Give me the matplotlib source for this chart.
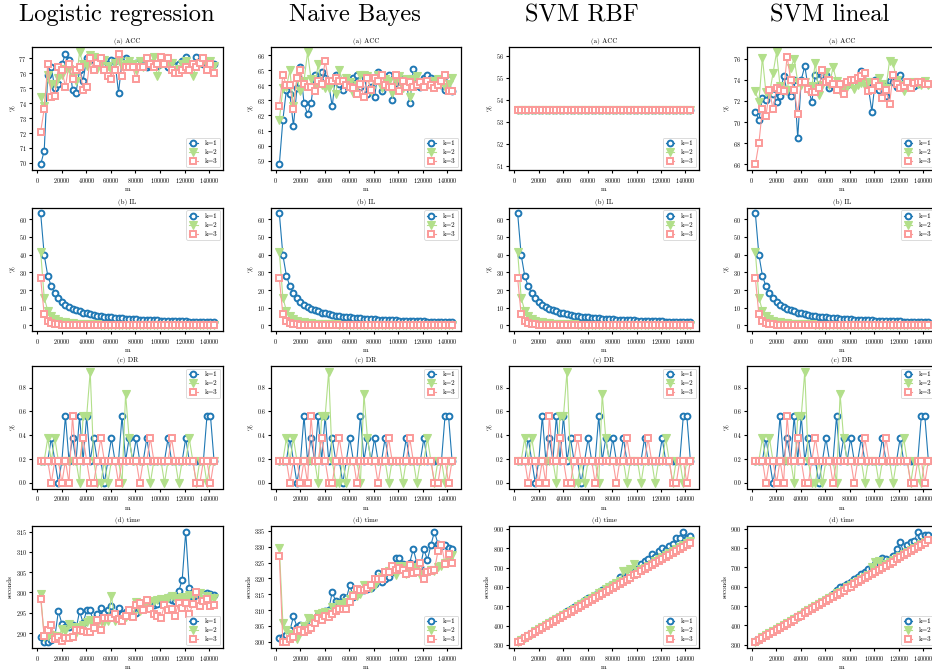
import matplotlib
matplotlib.use("Agg")
import matplotlib.pyplot as plt
import numpy as np

plt.rcParams['font.family'] = ['cmr10', 'DejaVu Serif']
plt.rcParams['axes.unicode_minus'] = False
plt.rcParams['mathtext.fontset'] = 'cm'
plt.rcParams['axes.formatter.use_mathtext'] = True

models = ["Logistic regression", "Naive Bayes", "SVM RBF", "SVM lineal"]
labels = ["k=1", "k=2", "k=3"]
m = [2880, 5760, 8640, 11520, 14400, 17280, 20160, 23040, 25920, 28800,
     31680, 34560, 37440, 40320, 43200, 46080, 48960, 51840, 54720, 57600,
     60480, 63360, 66240, 69120, 72000, 74880, 77760, 80640, 83520, 86400,
     89280, 92160, 95040, 97920, 100800, 103680, 106560, 109440, 112320, 115200,
     118080, 120960, 123840, 126720, 129600, 132480, 135360, 138240, 141120, 144000]

# ---------------- ACC ----------------
acc_lr_k1 = [69.9, 70.8, 75.9, 76.4, 75.0, 75.3, 76.6, 77.3, 76.9, 74.9, 74.7, 76.2, 75.5, 77.0, 76.9,
             77.0, 76.6, 76.8, 76.5, 76.6, 76.9, 76.8, 74.7, 76.8, 77.0, 76.5, 76.6, 76.7, 76.5, 76.6,
             76.4, 76.5, 76.6, 76.5, 76.8, 76.7, 76.4, 76.6, 76.5, 76.6, 76.8, 77.1, 76.4, 76.6, 77.1,
             76.8, 76.6, 76.7, 76.6, 76.6]
acc_lr_k2 = [74.4, 73.8, 75.9, 75.3, 75.3, 75.7, 75.9, 76.3, 76.3, 75.7, 75.5, 77.4, 76.6, 76.5, 77.2,
             77.1, 76.3, 76.6, 76.9, 76.5, 76.2, 76.7, 76.8, 76.5, 76.6, 76.8, 76.6, 76.2, 76.8, 76.4,
             76.7, 76.6, 77.1, 75.8, 76.6, 77.0, 76.6, 76.7, 76.1, 76.3, 76.6, 76.8, 76.6, 75.8, 76.5,
             76.7, 76.8, 76.6, 76.8, 76.5]
acc_lr_k3 = [72.1, 73.6, 76.6, 74.4, 74.5, 76.4, 76.2, 75.1, 76.6, 75.6, 76.2, 76.4, 74.9, 75.1, 77.0,
             76.2, 76.7, 77.0, 76.2, 75.8, 75.6, 76.2, 77.3, 75.8, 76.4, 76.4, 76.4, 75.6, 76.4, 76.4,
             77.0, 76.6, 76.4, 76.6, 77.1, 76.6, 77.0, 76.2, 76.0, 76.0, 76.2, 76.4, 76.2, 76.6, 76.4,
             76.7, 77.0, 76.2, 76.6, 76.0]
acc_nb_k1 = [58.75, 61.7, 63.7, 63.4, 61.3, 63.8, 65.2, 62.8, 62.1, 62.8, 64.7, 64.3, 64.9, 64.5, 64.1,
             62.6, 64.7, 64.1, 63.7, 64.0, 64.2, 64.5, 64.7, 63.9, 64.7, 63.4, 63.9, 63.2, 64.9, 63.6,
             64.1, 64.7, 63.0, 64.0, 63.9, 64.4, 64.2, 62.8, 65.1, 64.0, 63.9, 64.5, 64.7, 64.5, 64.0,
             64.3, 64.0, 63.7, 64.4, 63.6]
acc_nb_k2 = [61.7, 63.8, 63.9, 65.0, 62.6, 64.5, 63.6, 64.3, 66.2, 64.4, 63.8, 65.4, 64.0, 63.8, 63.8,
             64.3, 63.4, 65.0, 64.3, 64.5, 64.2, 63.5, 64.0, 64.7, 64.7, 64.6, 63.6, 64.4, 64.7, 63.8,
             64.4, 64.3, 63.5, 64.3, 64.6, 63.8, 64.4, 63.2, 64.4, 64.6, 64.0, 64.2, 64.0, 63.9, 64.3,
             64.4, 64.2, 63.9, 64.1, 64.5]
acc_nb_k3 = [62.6, 64.7, 64.0, 64.0, 62.4, 64.5, 65.0, 64.1, 63.9, 63.9, 63.6, 64.3, 64.1, 65.6, 64.3,
             64.3, 64.5, 64.3, 64.3, 64.0, 63.9, 63.8, 63.4, 64.1, 63.2, 64.5, 63.7, 64.5, 64.3, 64.7,
             64.0, 63.9, 63.9, 64.7, 63.6, 64.3, 63.9, 64.2, 63.9, 64.0, 64.2, 63.9, 64.3, 64.0, 63.8,
             64.0, 64.3, 64.7, 63.6, 63.6]
acc_rbf = [53.52] * 50
acc_lin_k1 = [71.0, 70.2, 72.3, 72.1, 72.9, 72.7, 71.9, 72.5, 74.4, 72.9, 72.5, 74.0, 68.5, 74.0, 75.3,
              73.2, 71.9, 74.5, 73.5, 74.5, 74.5, 73.2, 73.5, 73.5, 73.5, 73.4, 73.5, 73.8, 73.7, 73.8,
              74.8, 73.9, 73.3, 71.0, 74.0, 73.0, 73.6, 72.5, 73.9, 73.8, 73.3, 74.5, 73.6, 73.4, 73.7,
              73.4, 73.6, 73.8, 73.8, 73.6]
acc_lin_k2 = [72.9, 71.9, 76.1, 72.8, 72.7, 74.6, 76.6, 73.4, 72.9, 73.0, 75.1, 76.0, 73.8, 73.5, 73.8,
              73.0, 73.4, 75.6, 72.6, 73.5, 74.7, 73.5, 75.2, 73.9, 72.9, 73.2, 73.3, 73.6, 73.1, 73.5,
              73.7, 73.4, 73.8, 73.8, 73.5, 74.2, 73.6, 73.2, 75.8, 75.6, 74.0, 73.5, 72.9, 73.6, 73.3,
              73.8, 73.6, 73.5, 73.9, 73.5]
acc_lin_k3 = [66.0, 68.0, 71.2, 70.6, 73.0, 71.2, 73.2, 73.0, 72.9, 76.2, 74.0, 73.0, 70.8, 73.8, 73.8,
              73.1, 72.8, 72.8, 73.2, 74.9, 73.8, 74.0, 73.6, 73.0, 73.6, 72.7, 73.8, 74.0, 74.0, 74.2,
              74.4, 74.6, 72.9, 73.0, 73.8, 73.4, 72.3, 73.0, 71.7, 74.5, 73.6, 73.2, 73.4, 73.8, 73.2,
              73.7, 73.8, 73.8, 73.6, 73.6]

# ---------------- IL ----------------
il_k1 = [63.3, 39.8, 28.1, 22.1, 18.1, 15.3, 13.2, 11.7, 10.4, 9.4, 8.6, 7.9, 7.3, 6.8, 6.4, 6.0, 5.6,
         5.3, 5.0, 4.8, 4.6, 4.4, 4.2, 4.0, 3.8, 3.7, 3.5, 3.4, 3.3, 3.2, 3.1, 3.0, 2.9, 2.8, 2.7, 2.6,
         2.6, 2.5, 2.4, 2.4, 2.3, 2.3, 2.2, 2.2, 2.1, 2.1, 2.0, 2.0, 1.9, 1.9]
il_k2 = [41.5, 15.6, 8.4, 5.2, 3.6, 2.7, 2.1, 1.7, 1.4, 1.2, 1.0, 0.9, 0.8, 0.7, 0.65, 0.6, 0.55, 0.5,
         0.46, 0.43, 0.4, 0.38, 0.36, 0.34, 0.32, 0.3, 0.29, 0.28, 0.27, 0.26, 0.25, 0.24, 0.23, 0.22,
         0.21, 0.2, 0.2, 0.19, 0.18, 0.18, 0.17, 0.17, 0.16, 0.16, 0.15, 0.15, 0.14, 0.14, 0.14, 0.13]
il_k3 = [26.5, 6.2, 2.5, 1.3, 0.8, 0.55, 0.4, 0.3, 0.24, 0.2, 0.17, 0.15, 0.13, 0.12, 0.11, 0.1, 0.09,
         0.085, 0.08, 0.075, 0.07, 0.065, 0.06, 0.058, 0.055, 0.052, 0.05, 0.048, 0.046, 0.044, 0.042,
         0.04, 0.039, 0.038, 0.037, 0.036, 0.035, 0.034, 0.033, 0.032, 0.031, 0.03, 0.03, 0.029, 0.028,
         0.028, 0.027, 0.027, 0.026, 0.026]

# ---------------- DR ----------------
dr_k1 = [0.187, 0.187, 0.187, 0.374, 0.187, 0.0, 0.187, 0.561, 0.187, 0.374, 0.187, 0.561, 0.187, 0.561,
         0.187, 0.374, 0.187, 0.187, 0.0, 0.187, 0.374, 0.187, 0.187, 0.561, 0.187, 0.374, 0.187, 0.374,
         0.187, 0.187, 0.374, 0.187, 0.187, 0.187, 0.187, 0.187, 0.374, 0.187, 0.187, 0.187, 0.187, 0.374,
         0.187, 0.187, 0.187, 0.187, 0.187, 0.561, 0.561, 0.187]
dr_k2 = [0.187, 0.187, 0.374, 0.187, 0.374, 0.187, 0.187, 0.187, 0.187, 0.187, 0.187, 0.0, 0.561, 0.561,
         0.935, 0.187, 0.0, 0.0, 0.187, 0.0, 0.187, 0.187, 0.187, 0.0, 0.748, 0.374, 0.187, 0.187, 0.187,
         0.187, 0.187, 0.0, 0.187, 0.187, 0.187, 0.0, 0.187, 0.187, 0.187, 0.0, 0.187, 0.187, 0.374, 0.187,
         0.0, 0.187, 0.187, 0.0, 0.187, 0.187]
dr_k3 = [0.187, 0.187, 0.187, 0.0, 0.187, 0.187, 0.0, 0.187, 0.0, 0.561, 0.187, 0.187, 0.374, 0.187, 0.0,
         0.0, 0.187, 0.374, 0.187, 0.187, 0.187, 0.187, 0.0, 0.187, 0.187, 0.187, 0.187, 0.187, 0.0, 0.187,
         0.187, 0.374, 0.187, 0.187, 0.187, 0.187, 0.187, 0.374, 0.187, 0.187, 0.187, 0.187, 0.187, 0.187,
         0.0, 0.0, 0.187, 0.187, 0.0, 0.187]

# ---------------- time ----------------
t_lr_k1 = [289.0, 287.7, 287.9, 288.2, 289.0, 295.4, 292.3, 291.6, 291.5, 292.0, 291.0, 295.4, 292.5,
           295.6, 295.6, 292.5, 294.6, 296.1, 295.0, 295.8, 296.6, 294.7, 296.2, 294.7, 295.2, 295.1,
           295.8, 295.0, 296.4, 296.7, 298.2, 296.6, 296.8, 297.2, 298.0, 297.9, 298.9, 298.2, 298.0,
           300.3, 303.1, 315.0, 301.2, 299.0, 299.3, 299.3, 299.7, 299.8, 299.6, 299.3]
t_lr_k2 = [299.6, 289.0, 289.4, 289.5, 289.2, 289.0, 291.0, 290.5, 292.3, 291.5, 290.0, 291.6, 292.0,
           292.8, 293.2, 292.0, 292.6, 293.1, 292.7, 293.0, 299.2, 293.0, 293.4, 293.2, 294.0, 294.4,
           294.2, 297.6, 295.5, 297.0, 297.4, 298.0, 297.9, 298.1, 298.3, 297.8, 298.6, 299.2, 298.6,
           298.2, 299.0, 298.5, 299.3, 299.1, 299.8, 299.9, 298.3, 299.2, 298.3, 298.6]
t_lr_k3 = [298.5, 289.3, 290.7, 292.1, 288.6, 289.0, 288.1, 288.7, 288.9, 289.0, 290.8, 290.7, 290.6,
           290.3, 290.2, 291.3, 293.2, 290.7, 293.6, 293.6, 293.8, 294.6, 293.5, 292.9, 294.2, 295.6,
           293.9, 296.8, 297.3, 295.7, 298.2, 295.9, 294.7, 294.2, 293.8, 296.8, 295.6, 296.0, 294.3,
           297.4, 296.2, 297.3, 294.7, 297.1, 300.0, 296.6, 298.0, 298.5, 296.7, 297.0]
t_nb_k1 = [301.1, 301.6, 302.2, 303.6, 308.0, 304.8, 305.3, 304.6, 305.4, 306.2, 307.2, 308.5, 309.0,
           309.8, 310.1, 315.7, 312.8, 312.7, 314.0, 313.8, 317.8, 314.2, 315.0, 316.0, 316.4, 316.6,
           317.0, 318.2, 321.8, 319.0, 319.8, 320.4, 322.0, 326.3, 326.3, 324.6, 323.5, 325.0, 329.3,
           324.9, 323.5, 329.3, 325.8, 330.5, 334.8, 330.9, 330.1, 330.4, 329.7, 329.3]
t_nb_k2 = [329.6, 306.0, 303.7, 302.5, 302.0, 301.0, 303.0, 305.1, 307.4, 307.2, 306.8, 308.7, 309.0,
           309.5, 308.6, 311.0, 310.5, 311.8, 312.0, 312.5, 313.5, 314.8, 314.5, 315.0, 318.0, 317.8,
           317.0, 318.0, 319.6, 320.3, 321.6, 322.2, 322.2, 321.2, 323.8, 324.0, 321.5, 322.5, 322.6,
           323.7, 321.2, 321.3, 322.0, 322.6, 322.4, 323.5, 324.0, 324.9, 325.2, 327.4]
t_nb_k3 = [327.1, 299.8, 300.0, 301.0, 301.5, 303.4, 303.7, 303.2, 303.8, 304.5, 305.8, 307.6, 306.8,
           308.0, 307.8, 308.7, 309.6, 310.2, 310.2, 310.2, 312.7, 314.6, 316.6, 316.2, 316.4, 317.0,
           318.0, 319.8, 319.7, 319.7, 322.1, 322.0, 324.0, 322.6, 323.3, 322.6, 321.3, 324.4, 321.6,
           322.0, 325.0, 319.9, 322.1, 322.4, 322.6, 328.6, 330.6, 324.6, 327.6, 325.0]
t_rbf_k1 = [318, 329, 340, 351, 361, 372, 384, 395, 406, 418, 429, 440, 451, 462, 474, 485, 496, 508,
            519, 530, 542, 548, 558, 572, 583, 590, 603, 616, 622, 650, 640, 655, 665, 676, 690, 718,
            735, 745, 768, 755, 783, 800, 792, 809, 821, 855, 855, 886, 855, 864]
t_rbf_k2 = [316, 327, 338, 348, 359, 370, 381, 391, 402, 413, 424, 434, 445, 456, 467, 478, 488, 499,
            510, 521, 532, 541, 553, 566, 574, 588, 599, 612, 618, 628, 684, 680, 690, 718, 680, 690,
            700, 710, 720, 735, 744, 755, 765, 776, 786, 797, 808, 818, 829, 838]
t_rbf_k3 = [313, 323, 334, 344, 355, 365, 375, 386, 396, 407, 418, 428, 438, 449, 459, 470, 480, 491,
            501, 512, 522, 533, 543, 554, 564, 575, 585, 596, 606, 617, 627, 638, 648, 659, 669, 680,
            690, 701, 711, 722, 732, 743, 753, 764, 774, 785, 795, 806, 817, 828]
t_lin_k1 = [317, 328, 339, 350, 360, 371, 382, 392, 404, 414, 425, 436, 446, 457, 468, 479, 491, 500,
            511, 522, 537, 545, 560, 585, 600, 606, 612, 622, 640, 652, 665, 678, 690, 695, 715, 728,
            750, 745, 738, 761, 795, 830, 780, 815, 830, 835, 885, 864, 867, 868]
t_lin_k2 = [316, 327, 338, 349, 360, 370, 381, 392, 402, 413, 424, 434, 446, 456, 467, 478, 490, 498,
            509, 520, 530, 542, 552, 565, 575, 585, 596, 608, 620, 632, 642, 650, 662, 701, 730, 735,
            705, 716, 728, 738, 748, 758, 768, 779, 789, 800, 810, 821, 830, 843]
t_lin_k3 = [312, 323, 334, 344, 355, 366, 376, 387, 398, 409, 419, 430, 441, 451, 462, 473, 484, 494,
            505, 516, 526, 537, 548, 559, 569, 580, 591, 601, 612, 623, 634, 644, 655, 666, 676, 687,
            698, 709, 719, 730, 741, 751, 762, 773, 784, 794, 805, 816, 826, 840]

acc = [(acc_lr_k1, acc_lr_k2, acc_lr_k3), (acc_nb_k1, acc_nb_k2, acc_nb_k3),
       (acc_rbf, acc_rbf, acc_rbf), (acc_lin_k1, acc_lin_k2, acc_lin_k3)]
il = [(il_k1, il_k2, il_k3)] * 4
dr = [(dr_k1, dr_k2, dr_k3)] * 4
tm = [(t_lr_k1, t_lr_k2, t_lr_k3), (t_nb_k1, t_nb_k2, t_nb_k3),
      (t_rbf_k1, t_rbf_k2, t_rbf_k3), (t_lin_k1, t_lin_k2, t_lin_k3)]

rows = [("(a) ACC", "%", acc, "lower right"),
        ("(b) IL", "%", il, "upper right"),
        ("(c) DR", "%", dr, "upper right"),
        ("(d) time", "seconds", tm, "lower right")]

colors = ["#1f78b4", "#b2df8a", "#fb9a99"]
styles = [dict(marker="o", mfc="white", mec=colors[0], ms=4.2, mew=1.4),
          dict(marker="v", mfc=colors[1], mec=colors[1], ms=5.2, mew=0.8),
          dict(marker="s", mfc="white", mec=colors[2], ms=4.2, mew=1.4)]

W, H = 932.0, 671.0
fig = plt.figure(figsize=(W / 100, H / 100), dpi=100)

col_lr = [(32, 222.7), (270.7, 460.7), (509, 699), (746.7, 937)]
row_tb = [(46.7, 170), (207.7, 331), (366, 488.5), (526, 648)]
col_title_x = [117, 355, 582, 830]

for c, model in enumerate(models):
    fig.text(col_title_x[c] / W, 1 - 15 / H, model, ha="center", va="center", fontsize=17.6)
    for r, (title, ylab, data, loc) in enumerate(rows):
        l, rr = col_lr[c]
        t, b = row_tb[r]
        ax = fig.add_axes([l / W, 1 - b / H, (rr - l) / W, (b - t) / H])
        for k in range(3):
            ax.plot(m, data[c][k], color=colors[k], lw=0.8, label=labels[k], **styles[k])
        ax.set_title(title, fontsize=5, pad=3)
        ax.set_ylabel(ylab, fontsize=5, labelpad=2)
        ax.set_xlabel("m", fontsize=5, labelpad=1.5)
        ax.set_xticks([0, 20000, 40000, 60000, 80000, 100000, 120000, 140000])
        ax.tick_params(labelsize=4.4, length=2.5, width=0.8, pad=1.5)
        for s in ax.spines.values():
            s.set_linewidth(0.9)
        if r == 0 and c == 2:
            ax.set_ylim(50.8, 56.4)
            ax.set_yticks([51, 52, 53, 54, 55, 56])
        if r == 2:
            ax.set_yticks([0.0, 0.2, 0.4, 0.6, 0.8])
            ax.yaxis.set_major_formatter(matplotlib.ticker.FormatStrFormatter("%.1f"))
        if r == 3 and c >= 2:
            ax.set_yticks([300, 400, 500, 600, 700, 800, 900])
        leg = ax.legend(loc=loc, fontsize=5, handlelength=1.2, borderpad=0.4,
                        labelspacing=0.45, handletextpad=1.0, borderaxespad=0.4,
                        framealpha=0.8, fancybox=True)
        leg.get_frame().set_linewidth(0.6)

fig.savefig("out.png", dpi=100)
